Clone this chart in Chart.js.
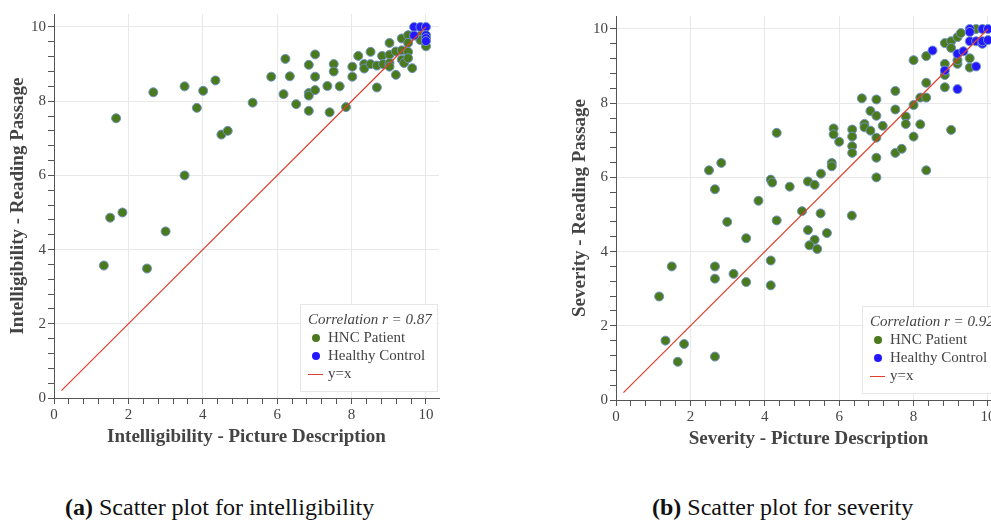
<!DOCTYPE html>
<html>
<head>
<meta charset="utf-8">
<script src="https://cdn.jsdelivr.net/npm/chart.js@4.4.0/dist/chart.umd.min.js"></script>
<style>
  html, body { margin: 0; padding: 0; background: #fff; width: 991px; height: 521px; overflow: hidden; position: relative; }
  .plot { position: absolute; }
  .caption { position: absolute; top: 494px; font-family: 'Liberation Serif', 'Times New Roman', serif; font-size: 24px; color: #111; white-space: nowrap; }
</style>
</head>
<body>
<div class="plot" style="left:0;top:0"><canvas id="intelChart" width="450" height="460"></canvas></div>
<div class="plot" style="left:562px;top:2px"><canvas id="sevChart" width="450" height="460"></canvas></div>
<div class="caption" style="left:65px"><b>(a)</b> Scatter plot for intelligibility</div>
<div class="caption" style="left:652px"><b>(b)</b> Scatter plot for severity</div>

<script>
// (a) intelligibility: picture description (x) vs reading passage (y)
const intelPatientPic = [1.67, 2.67, 3.51, 4.01, 4.34, 3.84, 4.50, 4.67, 3.51, 1.51, 1.84, 3.00, 1.34, 2.50,
  5.34, 5.84, 6.22, 6.34, 6.17, 6.51, 6.85, 7.02, 7.02, 6.85, 6.85, 7.02, 6.85, 7.35, 7.52, 7.52, 7.68, 7.41,
  7.85, 8.02, 8.02, 8.18, 8.34, 8.34, 8.51, 8.51, 8.68, 8.68, 8.82, 8.85, 9.02, 9.02, 9.02, 9.02, 9.19, 9.19,
  9.35, 9.35, 9.35, 9.41, 9.52, 9.52, 9.52, 9.52, 9.63, 9.85, 9.85, 10.0];
const intelPatientRead = [7.54, 8.24, 8.40, 8.28, 8.56, 7.82, 7.10, 7.20, 6.00, 4.86, 5.00, 4.49, 3.57, 3.49,
  7.96, 8.66, 9.14, 8.67, 8.19, 7.92, 8.98, 9.26, 8.66, 8.22, 8.15, 8.30, 7.74, 8.41, 9.00, 8.80, 8.40, 7.70,
  7.84, 8.93, 8.66, 9.22, 9.00, 8.88, 9.33, 9.00, 8.96, 8.37, 9.22, 9.00, 9.57, 9.25, 9.03, 8.93, 9.34, 8.71,
  9.69, 9.37, 9.12, 9.03, 9.78, 9.57, 9.33, 9.16, 8.89, 9.77, 9.65, 9.48];
const intelControlPic = [9.68, 9.85, 10.0, 9.68, 10.0, 10.0, 10.0];
const intelControlRead = [10.0, 10.0, 10.0, 9.77, 9.78, 9.70, 9.62];

// (b) severity: picture description (x) vs reading passage (y)
const sevPatientPic = [2.50, 2.83, 2.66, 3.83, 4.16, 4.20, 4.32, 4.32, 2.99, 3.50, 1.50, 2.66, 2.66, 3.16,
  3.50, 4.16, 4.16, 1.16, 1.33, 1.83, 1.66, 2.66, 5.00, 5.50, 6.34, 5.16, 5.67, 5.34, 5.20, 5.41, 4.67, 5.16,
  5.34, 5.51, 5.80, 5.80, 6.00, 5.85, 5.85, 6.35, 6.35, 6.35, 6.35, 6.61, 7.00, 6.84, 7.00, 6.68, 6.68, 6.84,
  7.17, 7.00, 7.00, 7.00, 7.51, 7.51, 7.79, 7.79, 7.51, 7.68, 8.18, 8.00, 8.00, 8.18, 8.34, 8.34, 8.34, 8.00,
  8.34, 8.84, 8.84, 8.84, 9.01, 8.84, 9.01, 9.01, 9.18, 9.18, 9.18, 9.27, 9.51, 9.51, 9.68];
const sevPatientRead = [6.19, 6.39, 5.68, 5.37, 5.94, 5.86, 7.20, 4.84, 4.80, 4.36, 3.60, 3.60, 3.27, 3.40,
  3.18, 3.76, 3.09, 2.79, 1.60, 1.51, 1.03, 1.17, 5.09, 5.03, 4.97, 4.58, 4.50, 4.32, 4.17, 4.07, 5.75, 5.89,
  5.80, 6.10, 6.39, 6.30, 6.96, 7.32, 7.16, 7.29, 7.10, 6.84, 6.66, 8.13, 8.10, 7.79, 7.66, 7.44, 7.35, 7.26,
  7.39, 7.07, 6.53, 6.00, 8.33, 7.83, 7.64, 7.44, 6.66, 6.77, 7.43, 7.95, 7.10, 8.15, 8.15, 8.55, 6.19, 9.16,
  9.27, 8.43, 8.76, 9.06, 7.28, 9.62, 9.67, 9.49, 9.06, 9.16, 9.78, 9.89, 9.21, 8.96, 10.0];
const sevControlPic = [8.84, 9.18, 9.18, 9.34, 8.51, 9.68, 9.51, 9.51, 9.85, 10.0, 9.51, 9.68, 9.85, 9.85, 10.0];
const sevControlRead = [8.88, 8.38, 9.33, 9.40, 9.42, 8.99, 10.0, 9.92, 10.0, 10.0, 9.67, 9.67, 9.60, 9.67, 9.70];

const refLine = [0.2, 10];
const majorTicks = [0, 2, 4, 6, 8, 10];
const minorStep = 0.4;
const axisMax = 10.35;

const GREEN = '#4b7a1d';
const BLUE = '#2418ff';
const EDGE = '#6f93c4';
const RED = 'rgb(222,64,44)';
const SERIF = "'Liberation Serif', 'Times New Roman', serif";

const toPoints = (xs, ys) => xs.map((x, i) => ({ x: x, y: ys[i] }));

// legend box drawn inside the plot, bottom right
const insideLegend = {
  id: 'insideLegend',
  afterDraw(chart, args, opts) {
    const { ctx, chartArea } = chart;
    const x = chartArea.right - 139;
    const y = chartArea.bottom - 94;
    ctx.save();
    ctx.fillStyle = 'rgba(255,255,255,0.95)';
    ctx.fillRect(x, y, 137, 87);
    ctx.strokeStyle = '#e6e6e6';
    ctx.lineWidth = 1;
    ctx.strokeRect(x + 0.5, y + 0.5, 137, 87);
    ctx.fillStyle = '#444';
    ctx.textBaseline = 'middle';
    ctx.font = 'italic 15px ' + SERIF;
    ctx.fillText(opts.title, x + 8, y + 16);
    ctx.font = '15px ' + SERIF;
    chart.data.datasets.forEach((ds, i) => {
      const ly = y + 34 + i * 18;
      if (ds.showLine) {
        ctx.strokeStyle = ds.borderColor;
        ctx.beginPath();
        ctx.moveTo(x + 8, ly + 0.5);
        ctx.lineTo(x + 23, ly + 0.5);
        ctx.stroke();
      } else {
        ctx.fillStyle = ds.backgroundColor;
        ctx.beginPath();
        ctx.arc(x + 16, ly, 4, 0, Math.PI * 2);
        ctx.fill();
      }
      ctx.fillStyle = '#444';
      ctx.fillText(ds.label, x + 28, ly);
    });
    ctx.restore();
  }
};

const isMajor = v => majorTicks.some(m => Math.abs(m - v) < 1e-6);

const makeAxis = (title, horizontal) => ({
  type: 'linear',
  min: 0,
  max: axisMax,
  afterBuildTicks: axis => {
    const vals = [];
    for (let i = 0; i * minorStep <= 10 + 1e-6; i++) vals.push(Math.round(i * minorStep * 10) / 10);
    axis.ticks = vals.map(v => ({ value: v }));
  },
  afterFit: s => { if (horizontal) s.height = 62; else s.width = 54; },
  border: { color: '#555', width: 1 },
  grid: {
    color: c => (c.tick && isMajor(c.tick.value) ? '#e8e8e8' : 'rgba(0,0,0,0)'),
    tickColor: '#555',
    tickLength: 6
  },
  ticks: {
    autoSkip: false,
    maxRotation: 0,
    padding: 2,
    color: '#444',
    font: { family: SERIF, size: 15 },
    callback: v => (isMajor(v) ? String(Math.round(v)) : '')
  },
  title: {
    display: true,
    text: title,
    color: '#444',
    font: { family: SERIF, size: 19, weight: 'bold' },
    padding: horizontal ? { top: 0, bottom: 12 } : { top: 7, bottom: 0 }
  }
});

const makeChart = (id, xTitle, yTitle, corr, patients, controls) => new Chart(document.getElementById(id), {
  type: 'scatter',
  data: {
    datasets: [
      {
        label: 'HNC Patient',
        data: patients,
        backgroundColor: GREEN,
        borderColor: EDGE,
        borderWidth: 1,
        pointRadius: 4.5,
        order: 2
      },
      {
        label: 'Healthy Control',
        data: controls,
        backgroundColor: BLUE,
        borderColor: EDGE,
        borderWidth: 1,
        pointRadius: 4.5,
        order: 1
      },
      {
        label: 'y=x',
        data: toPoints(refLine, refLine),
        showLine: true,
        borderColor: RED,
        backgroundColor: RED,
        borderWidth: 1.2,
        pointRadius: 0,
        order: 0
      }
    ]
  },
  options: {
    responsive: false,
    animation: false,
    layout: { padding: { top: 14, right: 11, left: 0, bottom: 0 } },
    plugins: {
      legend: { display: false },
      tooltip: { enabled: false },
      insideLegend: { title: 'Correlation r = ' + corr }
    },
    scales: {
      x: makeAxis(xTitle, true),
      y: makeAxis(yTitle, false)
    }
  },
  plugins: [insideLegend]
});

makeChart('intelChart', 'Intelligibility - Picture Description', 'Intelligibility - Reading Passage', '0.87',
  toPoints(intelPatientPic, intelPatientRead), toPoints(intelControlPic, intelControlRead));
makeChart('sevChart', 'Severity - Picture Description', 'Severity - Reading Passage', '0.92',
  toPoints(sevPatientPic, sevPatientRead), toPoints(sevControlPic, sevControlRead));
</script>
</body>
</html>
